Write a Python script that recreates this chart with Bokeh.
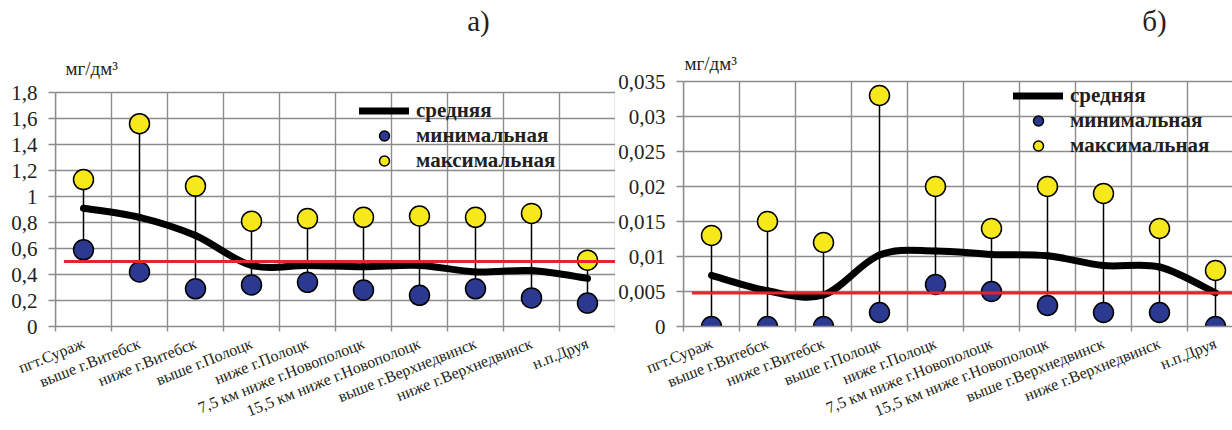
from bokeh.plotting import figure
from bokeh.layouts import row
from bokeh.models import Range1d, FixedTicker, Legend, LegendItem
from bokeh.core.properties import value
from bokeh.embed import file_html
from bokeh.resources import INLINE

categories = ["пгт.Сураж", "выше г.Витебск", "ниже г.Витебск", "выше г.Полоцк",
              "ниже г.Полоцк", "7,5 км ниже г.Новополоцк", "15,5 км ниже г.Новополоцк",
              "выше г.Верхнедвинск", "ниже г.Верхнедвинск", "н.п.Друя"]

# panel а)
a_mean = [0.91, 0.84, 0.70, 0.47, 0.47, 0.46, 0.47, 0.42, 0.43, 0.37]
a_min = [0.59, 0.42, 0.29, 0.32, 0.34, 0.28, 0.24, 0.29, 0.22, 0.18]
a_max = [1.13, 1.56, 1.08, 0.81, 0.83, 0.84, 0.85, 0.84, 0.87, 0.51]
a_limit = 0.5
a_ticks = [0, 0.2, 0.4, 0.6, 0.8, 1.0, 1.2, 1.4, 1.6, 1.8]
a_tick_labels = ["0", "0,2", "0,4", "0,6", "0,8", "1", "1,2", "1,4", "1,6", "1,8"]

# panel б)
b_mean = [0.0073, 0.0051, 0.0045, 0.0102, 0.0108, 0.0103, 0.0101, 0.0087, 0.0085, 0.0048]
b_min = [0.0, 0.0, 0.0, 0.002, 0.006, 0.005, 0.003, 0.002, 0.002, 0.0]
b_max = [0.013, 0.015, 0.012, 0.033, 0.020, 0.014, 0.020, 0.019, 0.014, 0.008]
b_limit = 0.0048
b_ticks = [0, 0.005, 0.01, 0.015, 0.02, 0.025, 0.03, 0.035]
b_tick_labels = ["0", "0,005", "0,01", "0,015", "0,02", "0,025", "0,03", "0,035"]

legend_labels = ["средняя", "минимальная", "максимальная"]
unit_label = "мг/дм³"
panel_titles = ["а)", "б)"]

GRID = "#8c8c8c"
TXT = "#231f20"
BLUE = "#2b3990"
YELLOW = "#f7e81c"
RED = "#e8242b"
SERIF = "Liberation Serif"

FRAME_BOTTOM = 326  # px from top of the window where value 0 sits
CAT_PX = 56         # px per category


def bezier_segments(xs, ys):
    n = len(xs)
    segs = dict(x0=[], y0=[], x1=[], y1=[], cx0=[], cy0=[], cx1=[], cy1=[])
    for i in range(n - 1):
        p0 = i - 1 if i > 0 else i
        p3 = i + 2 if i + 2 < n else i + 1
        segs["x0"].append(xs[i]); segs["y0"].append(ys[i])
        segs["x1"].append(xs[i + 1]); segs["y1"].append(ys[i + 1])
        segs["cx0"].append(xs[i] + (xs[i + 1] - xs[p0]) / 6)
        segs["cy0"].append(ys[i] + (ys[i + 1] - ys[p0]) / 6)
        segs["cx1"].append(xs[i + 1] - (xs[p3] - xs[i]) / 6)
        segs["cy1"].append(ys[i + 1] - (ys[p3] - ys[i]) / 6)
    return segs


def make_panel(width, fig_left, frame_left, frame_width, top_px, mean, vmin, vmax, limit,
               ticks, tick_labels, legend_xy, title_text, title_px, unit_px):
    ymax_tick = ticks[-1]
    px_per_unit = (FRAME_BOTTOM - top_px) / ymax_tick
    ymax = FRAME_BOTTOM / px_per_unit
    xmax = frame_width / CAT_PX
    x_abs0 = fig_left + frame_left
    p = figure(width=width, height=430, output_backend="svg", toolbar_location=None,
               x_range=Range1d(0, xmax), y_range=Range1d(0, ymax),
               min_border_left=frame_left, min_border_right=0,
               min_border_top=0, min_border_bottom=430 - FRAME_BOTTOM)
    p.outline_line_color = None
    p.background_fill_color = "white"
    p.border_fill_color = "white"

    xs = [i + 0.5 for i in range(len(categories))]
    bounds = list(range(0, len(categories) + 1))

    # grid: horizontal from the tick list, vertical at category boundaries up to the top tick
    p.xgrid.visible = False
    p.ygrid.ticker = FixedTicker(ticks=ticks)
    p.ygrid.grid_line_color = GRID
    p.ygrid.grid_line_width = 1.4
    p.segment(x0=bounds, y0=[0] * len(bounds), x1=bounds, y1=[ymax_tick] * len(bounds),
              line_color=GRID, line_width=1.4)

    # y axis
    p.yaxis.bounds = (0, ymax_tick)
    p.yaxis.ticker = FixedTicker(ticks=ticks)
    p.yaxis.major_label_overrides = {t: l for t, l in zip(ticks, tick_labels)}
    p.yaxis.axis_line_color = GRID
    p.yaxis.axis_line_width = 1.4
    p.yaxis.major_tick_line_color = GRID
    p.yaxis.major_tick_line_width = 1.4
    p.yaxis.major_tick_in = 0
    p.yaxis.major_tick_out = 7
    p.yaxis.minor_tick_line_color = None
    p.yaxis.major_label_standoff = 11
    p.yaxis.major_label_text_font = SERIF
    p.yaxis.major_label_text_font_size = "21px"
    p.yaxis.major_label_text_color = TXT

    # x axis
    p.xaxis.ticker = FixedTicker(ticks=xs, minor_ticks=bounds)
    p.xaxis.major_label_overrides = {x: c for x, c in zip(xs, categories)}
    p.xaxis.major_label_orientation = 0.38
    p.xaxis.axis_line_color = GRID
    p.xaxis.axis_line_width = 1.4
    p.xaxis.major_tick_line_color = None
    p.xaxis.major_tick_in = 0
    p.xaxis.major_tick_out = 0
    p.xaxis.minor_tick_line_color = GRID
    p.xaxis.minor_tick_line_width = 1.4
    p.xaxis.minor_tick_in = 0
    p.xaxis.minor_tick_out = 5
    p.xaxis.major_label_standoff = 11
    p.xaxis.major_label_text_font = SERIF
    p.xaxis.major_label_text_font_size = "16px"
    p.xaxis.major_label_text_color = TXT

    # stems
    p.segment(x0=xs, y0=vmin, x1=xs, y1=vmax, line_color="black", line_width=1.5)

    # smoothed mean
    segs = bezier_segments(xs, mean)
    rmean = p.bezier(source=segs, x0="x0", y0="y0", x1="x1", y1="y1", cx0="cx0", cy0="cy0",
                     cx1="cx1", cy1="cy1", line_color="black", line_width=7, line_cap="round")

    rmin = p.scatter(x=xs, y=vmin, size=20, fill_color=BLUE, line_color="black", line_width=1.5)
    rmax = p.scatter(x=xs, y=vmax, size=20, fill_color=YELLOW, line_color="black", line_width=1.5)

    # limit line
    p.segment(x0=[0.15], y0=[limit], x1=[xmax], y1=[limit], line_color=RED, line_width=3)

    legend = Legend(items=[LegendItem(label=legend_labels[0], renderers=[rmean]),
                           LegendItem(label=legend_labels[1], renderers=[rmin]),
                           LegendItem(label=legend_labels[2], renderers=[rmax])],
                    location=legend_xy, orientation="vertical",
                    glyph_width=50, glyph_height=25, label_height=25, spacing=0,
                    padding=0, margin=0, label_standoff=7,
                    border_line_color=None, background_fill_alpha=0,
                    label_text_font=SERIF, label_text_font_style="bold",
                    label_text_font_size="21px", label_text_color=TXT)
    p.add_layout(legend, "center")

    # panel letter and unit label
    p.text(x=[(title_px[0] - x_abs0) / CAT_PX], y=[(FRAME_BOTTOM - title_px[1]) / px_per_unit],
           text=[title_text], text_font=value(SERIF), text_font_size="29px", text_color=TXT,
           text_align="center", text_baseline="middle")
    p.text(x=[(unit_px[0] - x_abs0) / CAT_PX], y=[(FRAME_BOTTOM - unit_px[1]) / px_per_unit],
           text=[unit_label], text_font=value(SERIF), text_font_size="19px", text_color=TXT,
           text_align="left", text_baseline="middle")
    return p


# left figure occupies window x 0..615, right 615..1232
p1 = make_panel(width=615, fig_left=0, frame_left=55, frame_width=560, top_px=92,
                mean=a_mean, vmin=a_min, vmax=a_max, limit=a_limit, ticks=a_ticks,
                tick_labels=a_tick_labels, legend_xy=(304, 153),
                title_text=panel_titles[0], title_px=(478, 20), unit_px=(65, 68))

p2 = make_panel(width=617, fig_left=615, frame_left=68, frame_width=549, top_px=81,
                mean=b_mean, vmin=b_min, vmax=b_max, limit=b_limit, ticks=b_ticks,
                tick_labels=b_tick_labels, legend_xy=(330, 168),
                title_text=panel_titles[1], title_px=(1154, 20), unit_px=(684, 63))

layout = row(p1, p2, spacing=0)
open("out.html", "w").write(file_html(layout, INLINE))
